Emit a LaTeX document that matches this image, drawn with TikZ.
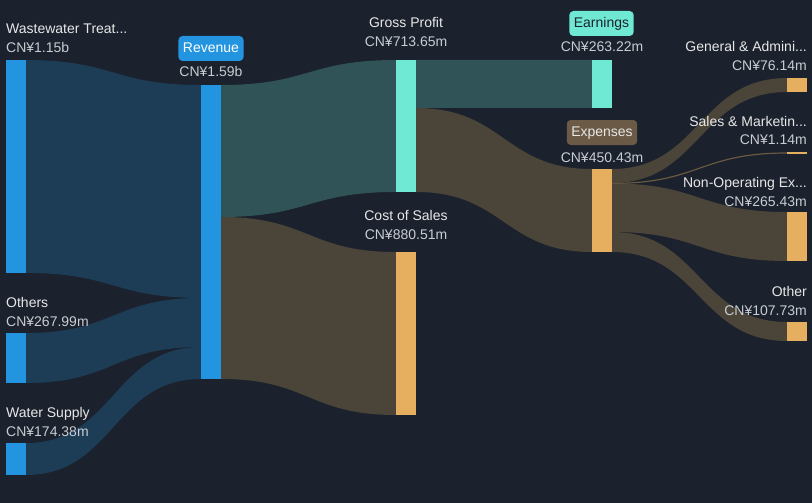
\documentclass[tikz,border=0pt]{standalone}
\usepackage{fontspec}
\setmainfont{Liberation Sans}
\definecolor{bg}{HTML}{1B212D}
\definecolor{bluebar}{HTML}{2394DF}
\definecolor{blueflow}{HTML}{1D3C56}
\definecolor{tealbar}{HTML}{6FE9D4}
\definecolor{tealflow}{HTML}{2F5357}
\definecolor{orangebar}{HTML}{E6AF5F}
\definecolor{brownflow}{HTML}{4B4539}
\definecolor{brownbadge}{HTML}{6B5A45}
\definecolor{nametxt}{HTML}{E8E8E8}
\definecolor{valtxt}{HTML}{C9CDD2}
\newcommand\flowband[7]{%
  \fill[#7] (#1,#2) .. controls ({(#1+#4)/2},#2) and ({(#1+#4)/2},#5) .. (#4,#5)
    -- (#4,#6) .. controls ({(#1+#4)/2},#6) and ({(#1+#4)/2},#3) .. (#1,#3) -- cycle;}
\tikzset{
  bar/.style={inner sep=0pt, outer sep=0pt, minimum width=20pt, anchor=north west, draw=none},
  nm/.style={text=nametxt, font=\fontsize{14}{16}\selectfont, inner sep=0pt},
  val/.style={text=valtxt, font=\fontsize{14}{16}\selectfont, inner sep=0pt},
  badge/.style={rounded corners=4pt, minimum height=25pt, inner xsep=4.5pt, inner ysep=0pt,
    text height=10pt, text depth=2pt, font=\fontsize{14}{16}\selectfont}
}
\begin{document}
\begin{tikzpicture}[x=1pt,y=-1pt]
\fill[bg] (0,0) rectangle (812,503);
\useasboundingbox (0,0) rectangle (812,503);

% flows
\flowband{26}{60}{273}{201}{85}{298}{blueflow}
\flowband{26}{333}{383}{201}{298}{347}{blueflow}
\flowband{26}{443}{475}{201}{347}{379}{blueflow}
\flowband{221}{85}{217}{396}{60}{192}{tealflow}
\flowband{221}{217}{379}{396}{252}{415}{brownflow}
\flowband{416}{60}{108}{592}{60}{108}{tealflow}
\flowband{416}{108}{192}{592}{169}{252}{brownflow}
\flowband{612}{169}{183}{787}{78}{92}{brownflow}
\flowband{612}{182.8}{184}{787}{152.4}{153.6}{brownflow!80!orangebar}
\flowband{612}{183.5}{232}{787}{212}{261}{brownflow}
\flowband{612}{232}{252}{787}{322}{341}{brownflow}

% bars
\node[bar, fill=bluebar, minimum height=213pt] (ww) at (6,60) {};
\node[bar, fill=bluebar, minimum height=50pt] (oth) at (6,333) {};
\node[bar, fill=bluebar, minimum height=32pt] (wsup) at (6,443) {};
\node[bar, fill=bluebar, minimum height=294pt] (rev) at (201,85) {};
\node[bar, fill=tealbar, minimum height=132pt] (gp) at (396,60) {};
\node[bar, fill=orangebar, minimum height=163pt] (cos) at (396,252) {};
\node[bar, fill=tealbar, minimum height=48pt] (earn) at (592,60) {};
\node[bar, fill=orangebar, minimum height=83pt] (exp) at (592,169) {};
\node[bar, fill=orangebar, minimum height=14pt] (ga) at (787,78) {};
\node[bar, fill=orangebar, minimum height=1.2pt] (sm) at (787,152.4) {};
\node[bar, fill=orangebar, minimum height=49pt] (nonop) at (787,212) {};
\node[bar, fill=orangebar, minimum height=19pt] (other) at (787,322) {};

% left labels
\node[nm, anchor=base west] (wwn) at (6,34) {Wastewater Treat...};
\node[val, anchor=base west] (wwv) at (6,53) {CN¥1.15b};
\node[nm, anchor=base west] (othn) at (6,307) {Others};
\node[val, anchor=base west] (othv) at (6,326) {CN¥267.99m};
\node[nm, anchor=base west] (wsupn) at (6,417) {Water Supply};
\node[val, anchor=base west] (wsupv) at (6,436) {CN¥174.38m};

% revenue
\node[badge, fill=bluebar, text=white] (revb) at (211,48.5) {Revenue};
\node[val, anchor=base] (revv) at (211,77) {CN¥1.59b};

% gross profit / cost of sales
\node[nm, anchor=base] (gpn) at (406,28) {Gross Profit};
\node[val, anchor=base] (gpv) at (406,47) {CN¥713.65m};
\node[nm, anchor=base] (cosn) at (406,220) {Cost of Sales};
\node[val, anchor=base] (cosv) at (406,239) {CN¥880.51m};

% earnings / expenses
\node[badge, fill=tealbar, text=bg] (earnb) at (601.5,23.5) {Earnings};
\node[val, anchor=base] (earnv) at (602,52) {CN¥263.22m};
\node[badge, fill=brownbadge, text=nametxt] (expb) at (602,132.5) {Expenses};
\node[val, anchor=base] (expv) at (602,162) {CN¥450.43m};

% right labels
\node[nm, anchor=base east] (gan) at (807,52) {General \& Admini...};
\node[val, anchor=base east] (gav) at (807,71) {CN¥76.14m};
\node[nm, anchor=base east] (smn) at (807,126) {Sales \& Marketin...};
\node[val, anchor=base east] (smv) at (807,144) {CN¥1.14m};
\node[nm, anchor=base east] (nonopn) at (807,187) {Non-Operating Ex...};
\node[val, anchor=base east] (nonopv) at (807,206) {CN¥265.43m};
\node[nm, anchor=base east] (othern) at (807,296) {Other};
\node[val, anchor=base east] (otherv) at (807,315) {CN¥107.73m};
\end{tikzpicture}
\end{document}
